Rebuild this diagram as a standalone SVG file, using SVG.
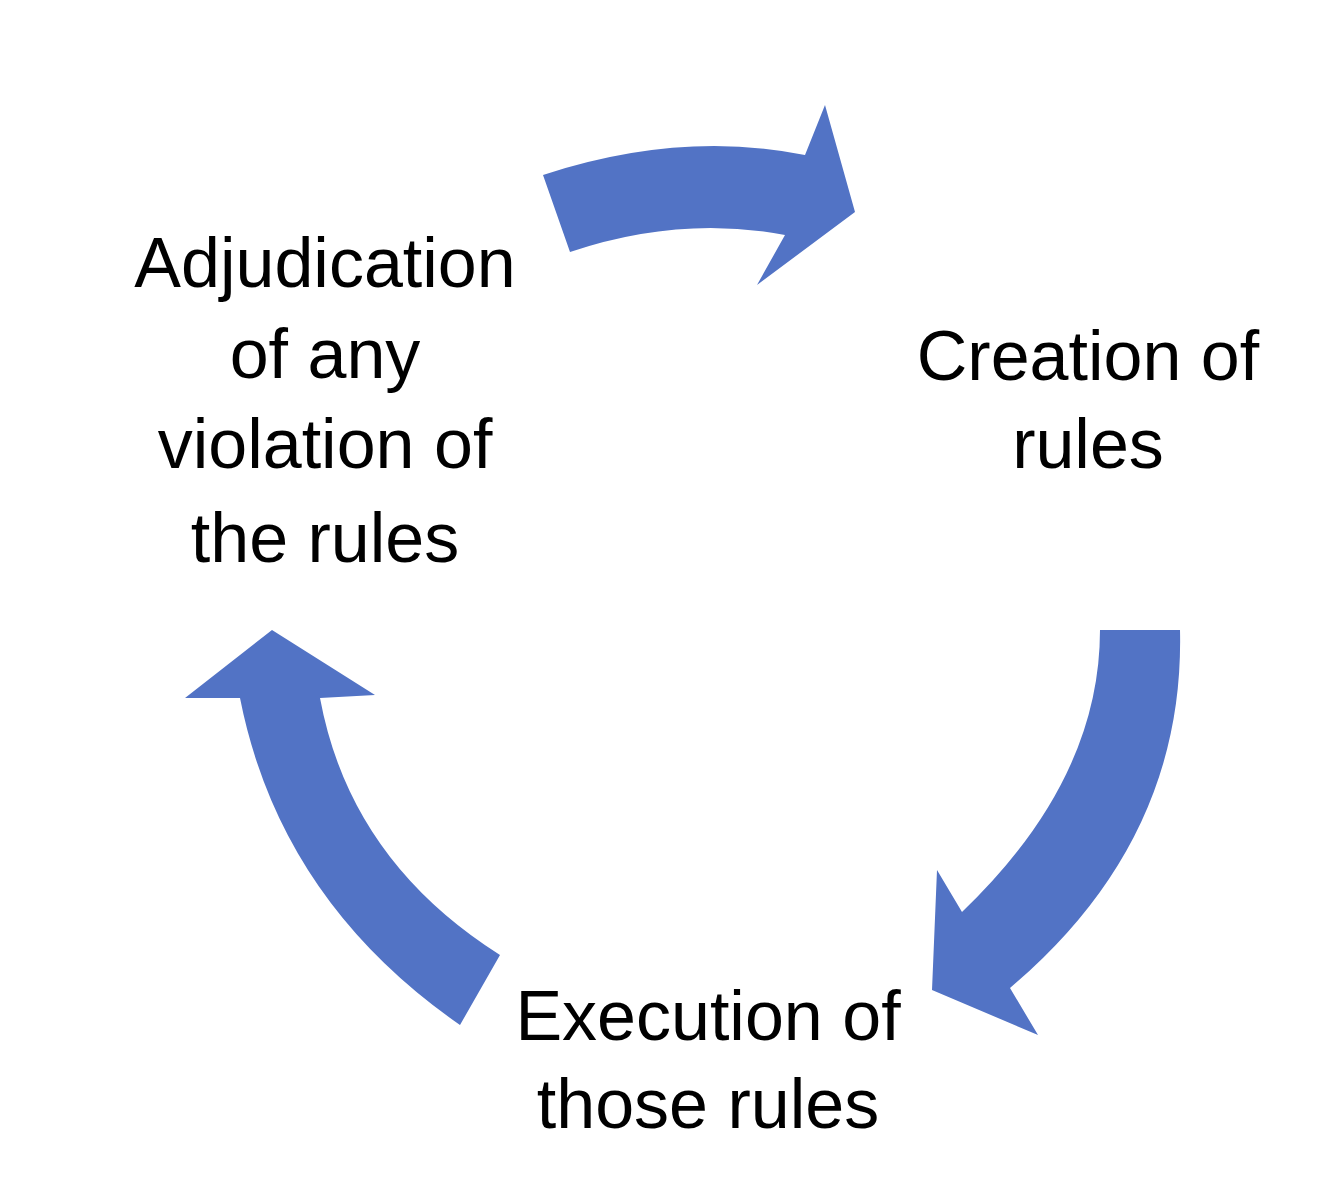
<svg xmlns="http://www.w3.org/2000/svg" width="1336" height="1200" viewBox="0 0 1336 1200">
<style>
.a{fill:#5273C5}
.t{font-family:"Liberation Sans",Arial,sans-serif;font-size:70px;fill:#000;text-anchor:middle}
</style>
<rect width="1336" height="1200" fill="#fff"/>
<g id="connectors">
<path class="a" d="M543,175 Q680,130 805,155 L825,105 L855,212 L757,285 L785,235 Q680,215 570,252 Z"/>
<path class="a" d="M1180,630 Q1185,840 1010,988 L1038,1035 L932,990 L937,870 L962,912 Q1100,780 1100,630 Z"/>
<path class="a" d="M460,1025 Q280,900 240,698 L185,698 L272,630 L375,695 L320,698 Q350,860 500,955 Z"/>
</g>
<g id="adjudication"><text class="t" x="325" y="287">Adjudication</text><text class="t" x="325" y="378">of any</text><text class="t" x="325" y="468">violation of</text><text class="t" x="325" y="562">the rules</text></g>
<g id="creation"><text class="t" x="1088" y="380">Creation of</text><text class="t" x="1088" y="468">rules</text></g>
<g id="execution"><text class="t" x="708" y="1040">Execution of</text><text class="t" x="708" y="1128">those rules</text></g>
</svg>
